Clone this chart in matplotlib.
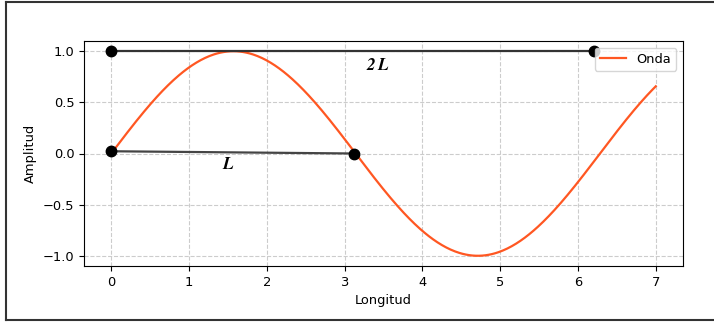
import numpy as np
import matplotlib
matplotlib.use("Agg")
import matplotlib.pyplot as plt
from matplotlib.lines import Line2D

plt.rcParams['mathtext.fontset'] = 'cm'

# Data
x_start, x_end, n_points = 0.0, 7.0, 500
wave_color = '#FF5722'
seg_2L_x = [0.0, 6.2]
seg_2L_y = [1.0, 1.0]
seg_L_x = [0.0, 3.12]
seg_L_y = [0.022, 0.0]
label_2L = r'$\mathbfit{2\,L}$'
label_L = r'$\mathbfit{L}$'
x_ticks = [0, 1, 2, 3, 4, 5, 6, 7]
y_ticks = [-1.0, -0.5, 0.0, 0.5, 1.0]

x = np.linspace(x_start, x_end, n_points)
y = np.sin(x)

fig = plt.figure(figsize=(7.14, 3.24), dpi=100)
ax = fig.add_axes([84/714, 1-266/324, (683-84)/714, (266-41)/324])

ax.plot(x, y, color=wave_color, lw=1.6, label='Onda', zorder=2)
ax.plot(seg_2L_x, seg_2L_y, color='#333333', lw=1.6, zorder=3)
ax.plot(seg_2L_x, seg_2L_y, 'o', color='black', ms=7.5, zorder=4)
ax.plot(seg_L_x, seg_L_y, color='#444444', lw=1.6, zorder=3)
ax.plot(seg_L_x, seg_L_y, 'o', color='black', ms=7.5, zorder=4)

ax.text(3.43, 0.87, label_2L, fontsize=12.5, ha='center', va='center')
ax.text(1.51, -0.1, label_L, fontsize=12.5, ha='center', va='center')

ax.set_xlim(-0.35, 7.35)
ax.set_ylim(-1.1, 1.1)
ax.set_xticks(x_ticks)
ax.set_yticks(y_ticks)
ax.tick_params(labelsize=9.4)
ax.set_xlabel('Longitud', fontsize=9.4)
ax.set_ylabel('Amplitud', fontsize=9.4)
ax.grid(True, linestyle='--', color='#cccccc', lw=0.8)
ax.legend(loc='upper right', fontsize=9.4)

# figure border
y_top = 1 - 1.5/324
y_bot = 1 - 320/324
x_left = 6/714
for (xs, ys) in [([x_left, x_left], [y_bot, y_top]),
                 ([x_left, 1.0], [y_top, y_top]),
                 ([x_left, 1.0], [y_bot, y_bot])]:
    fig.add_artist(Line2D(xs, ys, transform=fig.transFigure,
                          color='#333333', lw=1.5))

fig.savefig('out.png', dpi=100)
